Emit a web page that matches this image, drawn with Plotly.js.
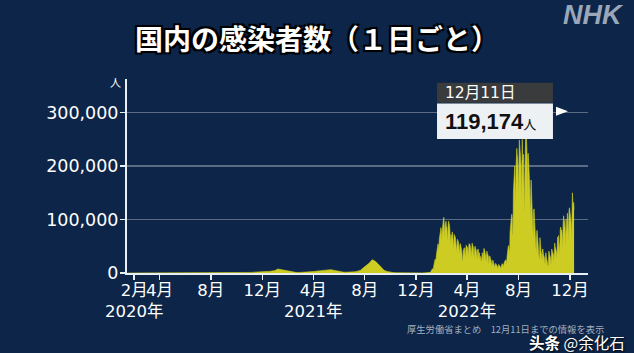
<!DOCTYPE html>
<html><head><meta charset="utf-8">
<script src="https://cdn.plot.ly/plotly-3.0.1.min.js"></script>
<style>html,body{margin:0;padding:0;background:#0d2548;}#chart{width:634px;height:353px;}</style>
</head><body><div id="chart"></div>
<script>
// ---- data ----
const weekStart = '2020-01-16';          // weekly readings 2020-2021
const weekly2020 = [0, 1, 2, 2, 5, 15, 20, 30, 40, 40, 100, 250, 550, 500, 350, 200, 90, 40, 25, 30, 40, 50, 60, 100, 200, 350, 600, 800, 1300, 1400, 1100, 900, 700, 550, 550, 500, 500, 550, 600, 600, 650, 750, 1100, 1600, 2200, 2300, 2400, 2800, 3000, 3400, 4500];
const weekly2021 = [7500, 6500, 5000, 3500, 2200, 1500, 1200, 1000, 1100, 1300, 1500, 1900, 2600, 3400, 4300, 5000, 5500, 5800, 6300, 5000, 3500, 2500, 1800, 1500, 1600, 1900, 2300, 3500, 5000, 10000, 14500, 18500, 25000, 22000, 17000, 10000, 5000, 3000, 1500, 900, 550, 350, 250, 200, 180, 150, 120, 120, 130, 180, 250, 450];
const dailyStart = '2022-01-01';         // daily readings 2022
const jan22 = [534, 553, 782, 1265, 2638, 4475, 6214, 8480, 8249, 6438, 6377, 13244, 18860, 21916, 25742, 25631, 20445, 32197, 41485, 46199, 49854, 54576, 50010, 42628, 62613, 71633, 78930, 81825, 84941, 78417, 59923];
const feb22 = [79142, 94931, 97800, 100923, 104169, 92000, 66000, 88000, 97000, 97000, 87000, 86000, 74000, 57000, 89000, 97000, 94000, 90000, 84000, 67000, 53000, 72000, 58000, 70000, 77000, 71000, 60000, 44000];
const mar22 = [65000, 72000, 67000, 68000, 63000, 52000, 39000, 60000, 63000, 61000, 60000, 55000, 45000, 34000, 52000, 55000, 51000, 48000, 43000, 36000, 22000, 24000, 41000, 47000, 47000, 47000, 40000, 27000, 45000, 52000, 49000];
const apr22 = [49000, 48000, 41000, 30000, 50000, 55000, 54000, 53000, 50000, 43000, 30000, 50000, 56000, 52000, 51000, 46000, 40000, 27000, 47000, 50000, 47000, 45000, 41000, 36000, 24000, 43000, 45000, 42000, 33000, 38000];
const may22 = [33000, 21000, 31000, 28000, 20000, 29000, 38000, 35000, 24000, 42000, 46000, 45000, 42000, 39000, 32000, 21000, 38000, 41000, 37000, 35000, 33000, 27000, 17000, 31000, 32000, 29000, 27000, 25000, 20000, 13000, 24000];
const jun22 = [24000, 22000, 19000, 18000, 15000, 9500, 17500, 18000, 16500, 15000, 14000, 12000, 7500, 15000, 16000, 15000, 14000, 13500, 11500, 7500, 15000, 17500, 17500, 16500, 17000, 14500, 9800, 19000, 23000, 23000];
const jul22 = [23000, 25000, 23000, 15000, 32000, 45000, 47000, 51000, 51000, 47000, 36000, 76000, 94000, 97000, 103000, 110000, 105000, 70000, 74000, 152000, 186000, 195000, 200000, 169000, 129000, 196000, 209000, 233000, 221000, 216000, 197000];
const aug22 = [142000, 196000, 249000, 238000, 227000, 219000, 201000, 140000, 226000, 250000, 213000, 209000, 222000, 181000, 110000, 174000, 250000, 255000, 261000, 253000, 230000, 146000, 220000, 224000, 211000, 194000, 182000, 157000, 98000, 158000, 174000];
const sep22 = [152000, 133000, 124000, 105000, 65000, 116000, 120000, 103000, 89000, 79000, 62000, 38000, 70000, 80000, 71000, 58000, 57000, 46000, 26000, 27000, 66000, 53000, 38000, 36000, 36000, 23000, 43000, 45000, 36000, 33000];
const oct22 = [31000, 27000, 15000, 35000, 38000, 31000, 27000, 26000, 24000, 13000, 14000, 41000, 38000, 34000, 33000, 28000, 14500, 38000, 45000, 41000, 38000, 38000, 34000, 20000, 50000, 56000, 49000, 46000, 46000, 40000, 26000];
const nov22 = [61000, 67000, 44000, 70000, 58000, 51000, 33000, 79000, 86000, 82000, 80000, 80000, 68000, 44000, 92000, 107000, 100000, 98000, 93000, 80000, 48000, 101000, 79000, 75000, 112000, 107000, 91000, 57000, 118000, 122000];
const dec22 = [115000, 108000, 107000, 93000, 61000, 127000, 150000, 133000, 126000, 132000, 119174];

const tickDates = ['2020-02-01','2020-04-01','2020-08-01','2020-12-01','2021-04-01','2021-08-01','2021-12-01','2022-04-01','2022-08-01','2022-12-01'];
const tickLabels = ['2月<br>2020年','4月','8月','12月','4月<br>2021年','8月','12月','4月<br>2022年','8月','12月'];
const yTicks = [0, 100000, 200000, 300000];
const yTickLabels = ['0','100,000','200,000','300,000'];

const titleText = '国内の感染者数（１日ごと）';
const latestDate = '12月11日';
const latestValue = '119,174';
const sourceText = '厚生労働省まとめ　12月11日までの情報を表示';

// ---- build ----
function addDays(s, n){ const d = new Date(s + 'T00:00:00Z'); d.setUTCDate(d.getUTCDate() + n); return d.toISOString().slice(0,10); }
const weeklyVals = weekly2020.concat(weekly2021);
const dailyVals = [].concat(jan22, feb22, mar22, apr22, may22, jun22, jul22, aug22, sep22, oct22, nov22, dec22);
const xs = weeklyVals.map((v,i)=>addDays(weekStart, 7*i)).concat(dailyVals.map((v,i)=>addDays(dailyStart, i)));
const ys = weeklyVals.concat(dailyVals);

const FONT = 'DejaVu Sans, Noto Sans CJK JP, sans-serif';
const CJK = 'Noto Sans CJK JP, sans-serif';
const yellow = '#cccc22';

const trace = {
  type: 'scatter', mode: 'lines', x: xs, y: ys,
  fill: 'tozeroy', fillcolor: yellow,
  line: {color: yellow, width: 0.6}, hoverinfo: 'skip'
};

const layout = {
  width: 634, height: 353,
  paper_bgcolor: '#0d2548', plot_bgcolor: '#0d2548',
  margin: {l: 127, r: 46, t: 79, b: 80},
  showlegend: false,
  title: {
    text: '<b>' + titleText + '</b>', x: 0.5, xanchor: 'center', y: 1 - 40/353, yanchor: 'middle', yref: 'container',
    font: {family: CJK, size: 28, color: '#ffffff', shadow: '-2px -2px 0 #000, 2px -2px 0 #000, -2px 2px 0 #000, 2px 2px 0 #000, 0 0 3px #000'}
  },
  xaxis: {
    type: 'date', range: ['2020-01-15', '2023-01-13'],
    tickmode: 'array', tickvals: tickDates, ticktext: tickLabels, tickangle: 0,
    ticks: 'outside', ticklen: 5, tickwidth: 1.5, tickcolor: '#e8eef6',
    ticklabelstandoff: -4,
    showline: true, linecolor: '#e8eef6', linewidth: 2,
    showgrid: false, zeroline: false,
    tickfont: {family: FONT, size: 16.5, color: '#ffffff'}
  },
  yaxis: {
    range: [0, 363000],
    tickmode: 'array', tickvals: yTicks, ticktext: yTickLabels,
    ticks: 'outside', ticklen: 5, tickwidth: 1.5, tickcolor: '#e8eef6',
    ticklabelstandoff: -2,
    showline: true, linecolor: '#e8eef6', linewidth: 2,
    showgrid: true, gridcolor: '#5b6b84', gridwidth: 1.5, zeroline: false,
    tickfont: {family: 'DejaVu Sans', size: 17.5, color: '#ffffff'}
  },
  shapes: [
    {type: 'rect', xref: 'paper', yref: 'paper', x0: 0.6725, x1: 0.924, y0: 0.877, y1: 0.981, fillcolor: '#3a3b3d', line: {width: 0}, layer: 'above'},
    {type: 'rect', xref: 'paper', yref: 'paper', x0: 0.6725, x1: 0.924, y0: 0.691, y1: 0.874, fillcolor: '#eef1f4', line: {width: 0}, layer: 'above'},
    {type: 'path', xref: 'paper', yref: 'paper', path: 'M0.9306,0.857 L0.9306,0.810 L0.9566,0.834 Z', fillcolor: '#ffffff', line: {width: 0}, layer: 'above'}
  ],
  annotations: [
    {xref: 'paper', yref: 'paper', x: -0.026, y: 0.986, text: '人', showarrow: false, xanchor: 'center', yanchor: 'middle', font: {family: CJK, size: 11, color: '#ffffff'}},
    {xref: 'paper', yref: 'paper', x: 1.013, y: 1.332, text: '<b><i>NHK</i></b>', showarrow: false, xanchor: 'center', yanchor: 'middle', font: {family: 'Liberation Sans, sans-serif', size: 27, color: '#9aa7b8'}},
    {xref: 'paper', yref: 'paper', x: 0.6855, y: 0.929, text: latestDate, showarrow: false, xanchor: 'left', yanchor: 'middle', font: {family: FONT, size: 15.5, color: '#ffffff'}},
    {xref: 'paper', yref: 'paper', x: 0.6855, y: 0.779, text: '<b>' + latestValue + '</b><span style="font-size:13px">人</span>', showarrow: false, xanchor: 'left', yanchor: 'middle', font: {family: 'Liberation Sans, Noto Sans CJK JP, sans-serif', size: 22, color: '#111111'}},
    {xref: 'paper', yref: 'paper', x: 0.822, y: -0.288, text: sourceText, showarrow: false, xanchor: 'center', yanchor: 'middle', font: {family: CJK, size: 9.3, color: '#a3aebf'}},
    {xref: 'paper', yref: 'paper', x: 0.976, y: -0.356, text: '<b>头条</b> @余化石', showarrow: false, xanchor: 'center', yanchor: 'middle', borderpad: 0, font: {family: 'Noto Sans CJK SC, sans-serif', size: 15.5, color: '#ffffff', shadow: '1px 1px 2px #000'}}
  ]
};

Plotly.newPlot('chart', [trace], layout, {staticPlot: true, displayModeBar: false});
</script></body></html>
